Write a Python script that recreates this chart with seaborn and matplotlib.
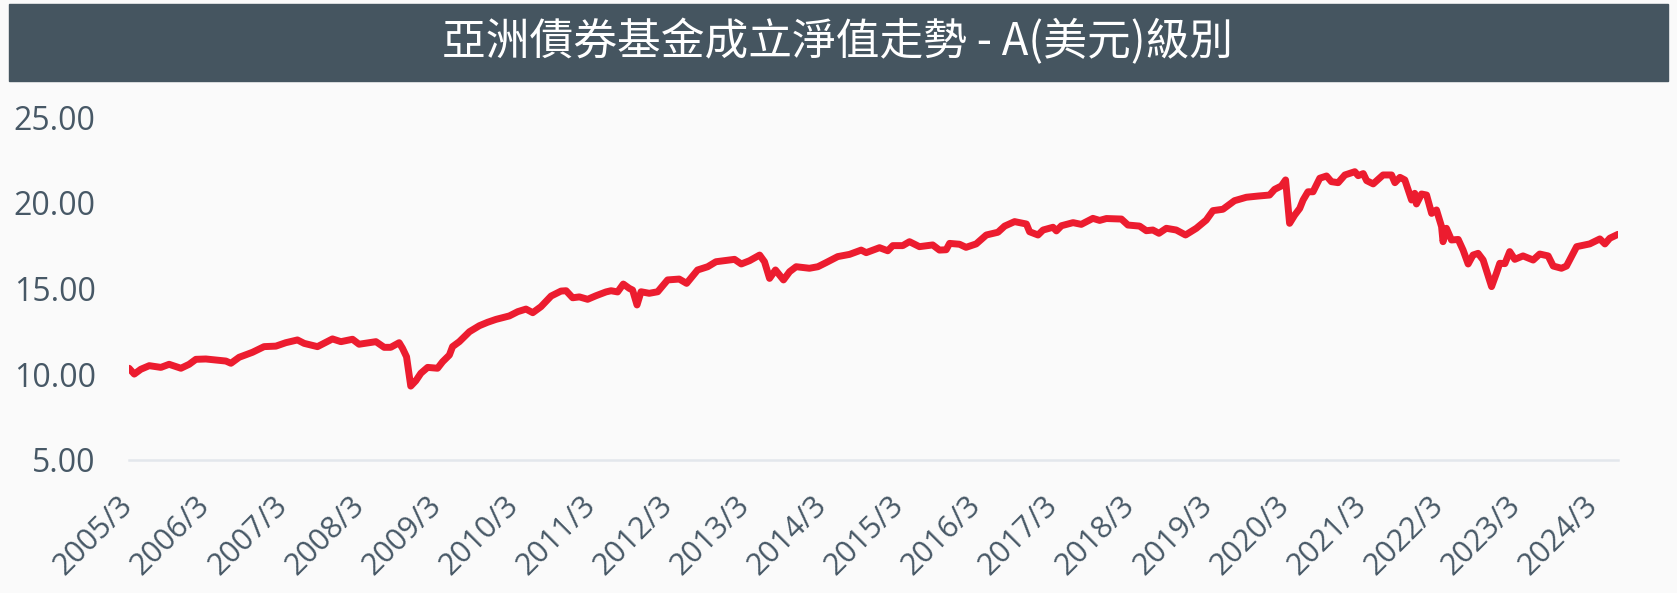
import pandas as pd
import seaborn as sns
import matplotlib.pyplot as plt
from matplotlib.patches import Rectangle
from matplotlib.transforms import ScaledTranslation

# 淨值資料 (讀圖估計)
nav_dates = [
    "2005-03-01", "2005-03-26", "2005-04-26", "2005-06-05", "2005-07-30", "2005-09-07",
    "2005-11-02", "2005-12-11", "2006-01-12", "2006-02-28", "2006-04-17", "2006-06-03",
    "2006-06-27", "2006-08-05", "2006-10-07", "2006-12-01", "2007-01-26", "2007-03-14",
    "2007-05-08", "2007-06-09", "2007-08-11", "2007-10-21", "2007-11-30", "2008-01-24",
    "2008-02-24", "2008-05-14", "2008-06-22", "2008-07-23", "2008-09-01", "2008-09-17",
    "2008-10-06", "2008-10-26", "2008-11-19", "2008-12-13", "2009-01-14", "2009-03-02",
    "2009-03-26", "2009-04-27", "2009-05-12", "2009-06-13", "2009-07-31", "2009-09-16",
    "2009-10-25", "2009-12-04", "2010-02-05", "2010-03-17", "2010-04-25", "2010-05-27",
    "2010-07-05", "2010-08-22", "2010-10-08", "2010-11-01", "2010-12-02", "2011-01-03",
    "2011-02-11", "2011-03-23", "2011-05-09", "2011-06-02", "2011-07-03", "2011-07-30",
    "2011-08-27", "2011-09-12", "2011-10-03", "2011-10-22", "2011-11-30", "2012-01-09",
    "2012-02-25", "2012-04-20", "2012-05-25", "2012-07-16", "2012-09-02", "2012-10-11",
    "2013-01-07", "2013-02-08", "2013-03-19", "2013-05-06", "2013-05-29", "2013-06-22",
    "2013-07-20", "2013-08-27", "2013-09-25", "2013-10-26", "2013-12-28", "2014-02-06",
    "2014-03-17", "2014-05-11", "2014-07-06", "2014-08-30", "2014-09-23", "2014-11-25",
    "2015-01-03", "2015-01-27", "2015-03-15", "2015-04-16", "2015-06-02", "2015-08-04",
    "2015-09-05", "2015-10-07", "2015-10-23", "2015-12-09", "2016-01-09", "2016-02-26",
    "2016-04-14", "2016-06-08", "2016-07-10", "2016-08-26", "2016-10-21", "2016-11-05",
    "2016-12-15", "2017-01-08", "2017-02-24", "2017-03-12", "2017-04-05", "2017-05-30",
    "2017-07-08", "2017-09-01", "2017-10-03", "2017-11-04", "2018-01-14", "2018-02-14",
    "2018-04-10", "2018-05-12", "2018-06-12", "2018-07-11", "2018-08-15", "2018-10-01",
    "2018-11-14", "2019-01-04", "2019-02-20", "2019-03-24", "2019-05-10", "2019-07-04",
    "2019-08-29", "2019-10-23", "2019-12-17", "2020-01-10", "2020-02-11", "2020-03-02",
    "2020-03-21", "2020-04-14", "2020-05-08", "2020-05-24", "2020-06-16", "2020-07-10",
    "2020-08-11", "2020-09-12", "2020-10-05", "2020-11-06", "2020-12-08", "2021-01-24",
    "2021-02-09", "2021-03-05", "2021-03-21", "2021-04-21", "2021-06-07", "2021-07-17",
    "2021-08-02", "2021-08-26", "2021-09-18", "2021-10-04", "2021-10-20", "2021-11-04",
    "2021-11-12", "2021-12-06", "2021-12-30", "2022-01-23", "2022-02-15", "2022-03-11",
    "2022-03-18", "2022-04-03", "2022-04-27", "2022-05-29", "2022-06-21", "2022-07-15",
    "2022-08-07", "2022-08-31", "2022-09-24", "2022-10-13", "2022-11-03", "2022-11-26",
    "2022-12-12", "2023-01-05", "2023-01-28", "2023-02-21", "2023-04-01", "2023-05-19",
    "2023-06-19", "2023-07-29", "2023-08-22", "2023-09-30", "2023-10-24", "2023-12-11",
    "2024-02-11", "2024-03-30", "2024-04-23", "2024-05-16", "2024-06-24",
]
nav_values = [
    10.35, 10.01, 10.29, 10.50, 10.40, 10.58,
    10.35, 10.58, 10.87, 10.89, 10.83, 10.77,
    10.64, 10.99, 11.28, 11.61, 11.64, 11.84,
    12.00, 11.80, 11.61, 12.06, 11.90, 12.04,
    11.75, 11.90, 11.57, 11.57, 11.84, 11.51,
    11.02, 9.31, 9.62, 10.06, 10.40, 10.35,
    10.73, 11.12, 11.61, 11.90, 12.48, 12.83,
    13.03, 13.20, 13.40, 13.65, 13.80, 13.59,
    13.94, 14.56, 14.85, 14.87, 14.46, 14.51,
    14.37, 14.58, 14.80, 14.87, 14.80, 15.26,
    15.01, 14.91, 14.04, 14.81, 14.72, 14.81,
    15.50, 15.55, 15.30, 16.08, 16.27, 16.56,
    16.70, 16.43, 16.62, 16.95, 16.56, 15.59,
    16.08, 15.50, 15.98, 16.27, 16.18, 16.27,
    16.51, 16.86, 16.99, 17.24, 17.09, 17.38,
    17.20, 17.50, 17.50, 17.73, 17.44, 17.54,
    17.24, 17.26, 17.63, 17.58, 17.40, 17.60,
    18.12, 18.28, 18.64, 18.90, 18.76, 18.31,
    18.12, 18.41, 18.57, 18.36, 18.66, 18.84,
    18.74, 19.09, 18.97, 19.08, 19.05, 18.70,
    18.64, 18.37, 18.41, 18.22, 18.51, 18.41,
    18.12, 18.51, 18.99, 19.54, 19.62, 20.12,
    20.32, 20.39, 20.45, 20.78, 20.98, 21.33,
    18.80, 19.28, 19.67, 20.16, 20.64, 20.64,
    21.43, 21.56, 21.23, 21.17, 21.62, 21.81,
    21.58, 21.70, 21.29, 21.10, 21.62, 21.62,
    21.17, 21.48, 21.33, 20.74, 20.16, 20.55,
    19.93, 20.51, 20.45, 19.38, 19.58, 18.61,
    17.73, 18.51, 17.83, 17.86, 17.24, 16.43,
    16.95, 17.05, 16.66, 15.92, 15.11, 15.89,
    16.47, 16.45, 17.15, 16.70, 16.90, 16.66,
    17.01, 16.90, 16.31, 16.18, 16.31, 17.44,
    17.60, 17.89, 17.60, 17.93, 18.16,
]

tick_years = list(range(2005, 2025))
tick_labels = [f"{y}/3" for y in tick_years]
y_ticks = [5, 10, 15, 20, 25]

title = "亞洲債券基金成立淨值走勢 - A(美元)級別"

df = pd.DataFrame({"date": pd.to_datetime(nav_dates), "nav": nav_values})

sns.set_theme(style="white")
plt.rcParams['font.family'] = ['Open Sans', 'DejaVu Sans']

W, H = 1677, 593
fig = plt.figure(figsize=(W / 100, H / 100), dpi=100, facecolor='#fafafa')

# 標題列
fig.add_artist(Rectangle((9 / W, 1 - 81 / H), 1659 / W, 77 / H,
                         transform=fig.transFigure, color='#455560', zorder=0))
fig.text(838 / W, 1 - 42 / H, title, color='white', fontsize=31.5,
         ha='center', va='center', family=['Noto Sans CJK TC', 'DejaVu Sans'])

ax = fig.add_axes([129 / W, 1 - 460 / H, (1618 - 129) / W, (460 - 117) / H])
ax.set_facecolor('#fafafa')

sns.lineplot(data=df, x='date', y='nav', color='#ec1c2f', linewidth=5,
             solid_capstyle='round', solid_joinstyle='round', ax=ax)

ax.set_xlim(df['date'].min(), df['date'].max())
ax.set_ylim(5, 25)
ax.set_yticks(y_ticks)
ax.set_yticklabels([f"{v:.2f}" for v in y_ticks])
ax.set_xticks(pd.to_datetime([f"{y}-03-01" for y in tick_years]))
ax.set_xticklabels(tick_labels, rotation=45, ha='right', va='top',
                   rotation_mode='anchor')
ax.set_xlabel("")
ax.set_ylabel("")

for s in ['top', 'right', 'left']:
    ax.spines[s].set_visible(False)
ax.spines['bottom'].set_color('#e3e7ec')
ax.spines['bottom'].set_linewidth(1.8)
ax.spines['bottom'].set_zorder(0)

ax.tick_params(axis='both', length=0, labelcolor='#475866')
ax.tick_params(axis='y', pad=24, labelsize=23)
ax.tick_params(axis='x', pad=22, labelsize=22)
off = ScaledTranslation(-11 / 100, 0, fig.dpi_scale_trans)
for lab in ax.get_xticklabels():
    lab.set_transform(lab.get_transform() + off)

fig.savefig('out.png', dpi=100, facecolor='#fafafa')
